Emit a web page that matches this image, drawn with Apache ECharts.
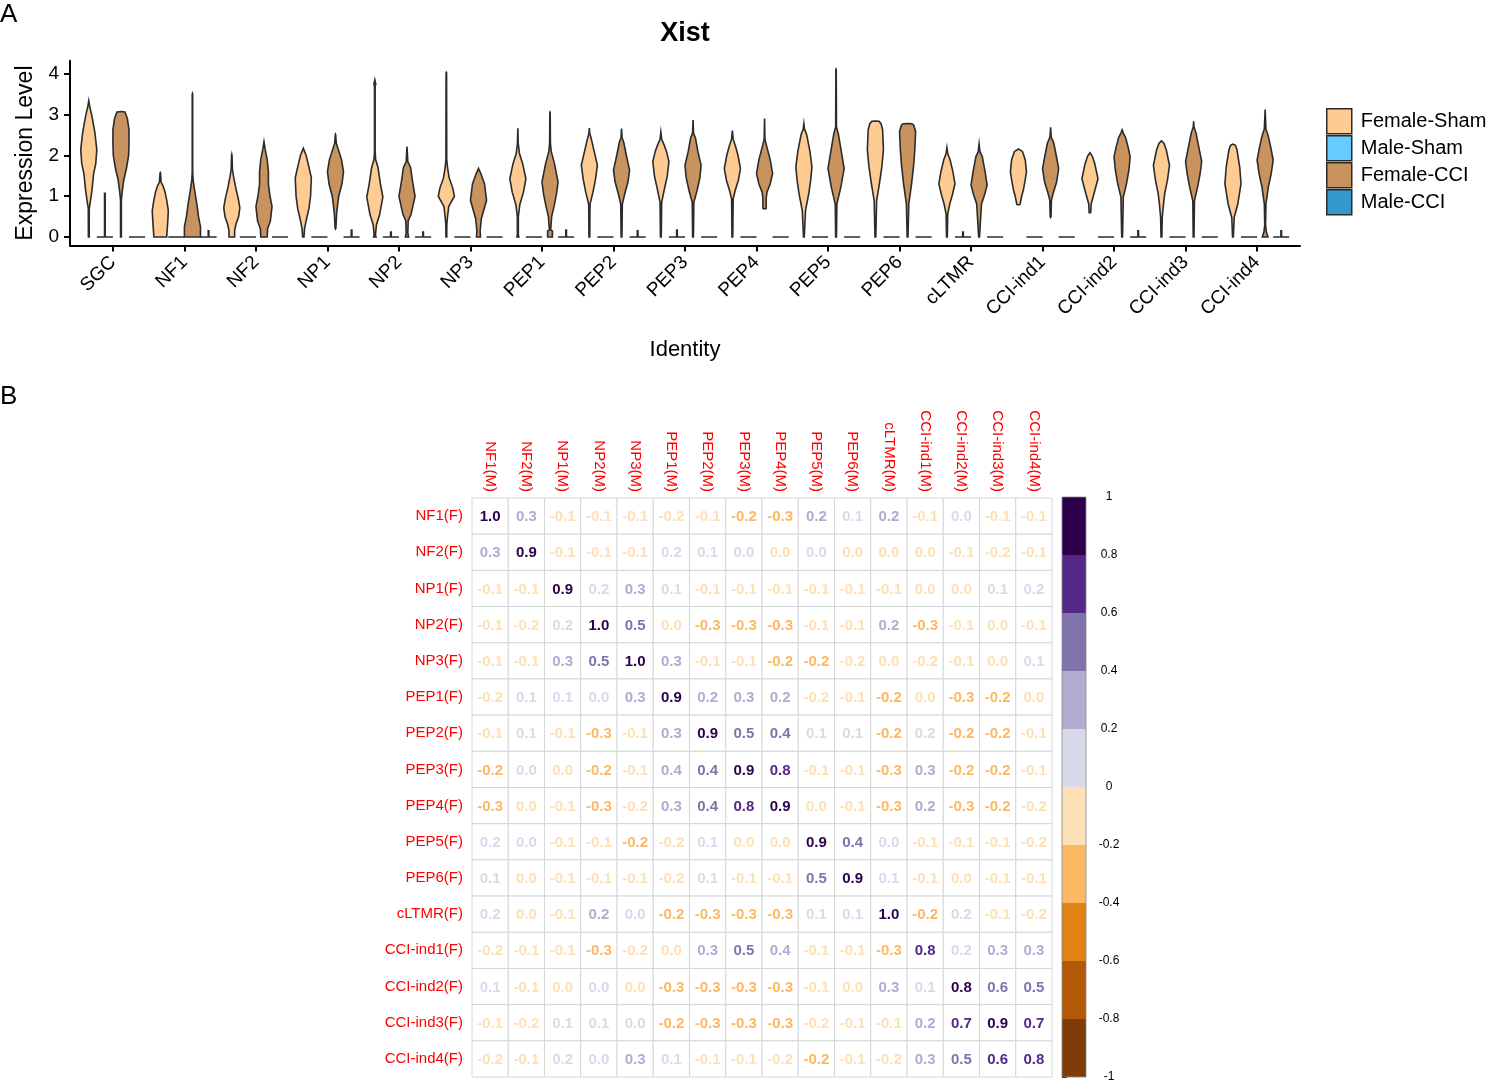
<!DOCTYPE html>
<html>
<head>
<meta charset="utf-8">
<script src="https://cdn.jsdelivr.net/npm/echarts@6/dist/echarts.min.js"></script>
<style>
html, body { margin: 0; padding: 0; background: #fff; }
#main { width: 1500px; height: 1084px; }
</style>
</head>
<body>
<div id="main"></div>
<script>
// ---------- panel A : Xist expression ----------
var identities = ['SGC', 'NF1', 'NF2', 'NP1', 'NP2', 'NP3', 'PEP1', 'PEP2', 'PEP3', 'PEP4', 'PEP5', 'PEP6', 'cLTMR', 'CCI-ind1', 'CCI-ind2', 'CCI-ind3', 'CCI-ind4'];
var groups = ['Female-Sham', 'Male-Sham', 'Female-CCI', 'Male-CCI'];
var groupColors = ['#FECB92', '#66CCFF', '#C8935E', '#3399CC'];
var exprTicks = [0, 1, 2, 3, 4];

// violin outlines: [expression level, relative width], bottom to top
var femaleShamShapes = [
  [[0,0.05],[0.7,0.06],[0.85,0.18],[1.15,0.4],[1.55,0.6],[1.8,0.87],[2.14,1.0],[2.55,0.77],[2.96,0.4],[3.2,0.12],[3.34,0]],
  [[0,0.8],[0.45,0.95],[0.65,1.0],[0.9,0.8],[1.1,0.6],[1.25,0.35],[1.35,0.1],[1.57,0.03],[1.58,0]],
  [[0,0.35],[0.15,0.35],[0.3,0.5],[0.5,0.85],[0.72,1.0],[0.95,0.8],[1.2,0.5],[1.45,0.25],[1.65,0.08],[2.0,0.03],[2.03,0]],
  [[0,0.08],[0.2,0.15],[0.4,0.35],[0.7,0.7],[1.0,0.9],[1.45,1.0],[1.8,0.6],[2.0,0.35],[2.18,0]],
  [[0,0.15],[0.05,0.08],[0.3,0.2],[0.55,0.6],[0.98,1.0],[1.3,0.7],[1.7,0.4],[1.9,0.1],[2.1,0.04],[3.7,0.04],[3.75,0.12],[3.86,0]],
  [[0,0.05],[0.3,0.06],[0.5,0.15],[0.75,0.3],[1.0,1.0],[1.2,0.8],[1.45,0.35],[1.7,0.15],[1.9,0.05],[4.03,0.03],[4.04,0]],
  [[0,0.12],[0.05,0.06],[0.5,0.06],[0.8,0.25],[1.1,0.7],[1.43,1.0],[1.8,0.6],[2.05,0.2],[2.3,0.05],[2.67,0]],
  [[0,0.05],[0.8,0.08],[1.1,0.45],[1.4,0.75],[1.76,1.0],[2.1,0.6],[2.4,0.25],[2.55,0.05],[2.67,0]],
  [[0,0.05],[0.85,0.1],[1.14,0.4],[1.5,0.8],[1.85,1.0],[2.1,0.7],[2.26,0.4],[2.4,0.1],[2.57,0]],
  [[0,0.05],[0.94,0.1],[1.14,0.35],[1.4,0.75],[1.68,1.0],[2.0,0.7],[2.22,0.4],[2.4,0.1],[2.61,0]],
  [[0,0.05],[0.65,0.2],[1.06,0.6],[1.4,0.85],[1.72,1.0],[2.1,0.75],[2.51,0.35],[2.65,0.08],[2.78,0]],
  [[0,0.05],[0.89,0.15],[1.31,0.5],[1.72,0.8],[2.14,1.0],[2.63,0.9],[2.78,0.7],[2.84,0.45],[2.845,0]],
  [[0,0.05],[0.56,0.1],[0.81,0.35],[1.05,0.7],[1.31,1.0],[1.6,0.75],[1.89,0.4],[2.05,0.1],[2.19,0]],
  [[0.79,0],[0.8,0.2],[1.0,0.4],[1.14,0.6],[1.35,0.8],[1.6,1.0],[1.89,0.85],[2.1,0.5],[2.16,0]],
  [[0.59,0],[0.6,0.1],[0.81,0.15],[1.06,0.5],[1.43,1.0],[1.8,0.6],[1.98,0.3],[2.07,0]],
  [[0,0.05],[0.48,0.1],[0.8,0.25],[1.06,0.4],[1.4,0.75],[1.76,1.0],[2.14,0.6],[2.3,0.3],[2.36,0]],
  [[0,0.05],[0.48,0.15],[0.81,0.6],[1.31,1.0],[1.7,0.85],[2.14,0.5],[2.25,0.3],[2.28,0]]
];
var femaleCCIShapes = [
  [[0,0.05],[0.9,0.05],[1.1,0.15],[1.4,0.35],[1.7,0.7],[2.0,0.95],[2.3,1.0],[2.63,1.0],[2.9,0.8],[3.07,0.5],[3.08,0]],
  [[0,1.0],[0.25,1.0],[0.5,0.75],[0.8,0.55],[1.1,0.3],[1.4,0.08],[1.6,0.03],[3.5,0.03],[3.52,0]],
  [[0,0.4],[0.2,0.45],[0.4,0.8],[0.75,1.0],[1.0,0.75],[1.3,0.55],[1.6,0.55],[1.9,0.4],[2.15,0.15],[2.34,0]],
  [[0.2,0],[0.22,0.05],[0.6,0.15],[1.0,0.4],[1.3,0.8],[1.6,1.0],[1.9,0.75],[2.15,0.35],[2.3,0.1],[2.51,0.02],[2.52,0]],
  [[0,0.2],[0.1,0.1],[0.4,0.15],[0.55,0.5],[1.0,1.0],[1.35,0.7],[1.7,0.45],[1.85,0.1],[2.22,0]],
  [[0,0.25],[0.15,0.2],[0.45,0.35],[0.9,1.0],[1.3,0.75],[1.55,0.3],[1.68,0]],
  [[0,0.3],[0.15,0.3],[0.17,0.08],[0.5,0.2],[0.75,0.5],[1.05,0.8],[1.35,1.0],[1.8,0.55],[2.1,0.15],[2.3,0.05],[3.05,0.02],[3.06,0]],
  [[0,0.05],[0.81,0.1],[1.06,0.4],[1.35,0.8],[1.64,1.0],[2.0,0.6],[2.3,0.3],[2.45,0.06],[2.66,0]],
  [[0,0.05],[0.85,0.1],[1.14,0.5],[1.45,0.85],[1.76,1.0],[2.1,0.6],[2.43,0.3],[2.55,0.06],[2.87,0]],
  [[0.69,0],[0.7,0.2],[0.95,0.2],[1.1,0.3],[1.3,0.7],[1.56,1.0],[1.9,0.7],[2.2,0.3],[2.4,0.05],[2.91,0]],
  [[0,0.05],[0.81,0.1],[1.23,0.6],[1.68,1.0],[2.1,0.65],[2.51,0.3],[2.7,0.05],[4.11,0.02],[4.12,0]],
  [[0,0.05],[0.81,0.15],[1.31,0.5],[1.75,0.75],[2.14,0.9],[2.59,1.0],[2.75,0.75],[2.78,0.55],[2.785,0]],
  [[0,0.05],[0.81,0.3],[1.05,0.7],[1.27,1.0],[1.6,0.75],[1.97,0.4],[2.1,0.1],[2.28,0]],
  [[0.48,0],[0.5,0.05],[0.9,0.1],[1.06,0.3],[1.35,0.75],[1.68,1.0],[2.0,0.7],[2.3,0.4],[2.45,0.08],[2.69,0]],
  [[0,0.05],[0.98,0.15],[1.31,0.55],[1.65,0.85],[1.97,1.0],[2.2,0.75],[2.43,0.45],[2.55,0.15],[2.63,0]],
  [[0,0.05],[0.89,0.1],[1.23,0.5],[1.55,0.8],[1.85,1.0],[2.2,0.65],[2.55,0.3],[2.7,0.05],[2.84,0]],
  [[0,0.35],[0.12,0.15],[0.3,0.05],[0.81,0.1],[1.23,0.4],[1.55,0.75],[1.89,1.0],[2.2,0.7],[2.47,0.4],[2.65,0.1],[3.13,0]]
];
// male cells are almost all zero: a flat line, plus a thin spike up to this level (0 = none)
var maleShamSpike = [1.07, 0, 0, 0, 0.12, 0, 0, 0, 0.17, 0, 0, 0, 0.12, 0, 0, 0, 0];
var maleCCISpike  = [0, 0.15, 0, 0.17, 0.12, 0, 0.17, 0.15, 0, 0, 0, 0, 0, 0, 0.15, 0, 0.15];

// ---------- panel B : correlation matrix ----------
var corrRows = ['NF1(F)', 'NF2(F)', 'NP1(F)', 'NP2(F)', 'NP3(F)', 'PEP1(F)', 'PEP2(F)', 'PEP3(F)', 'PEP4(F)', 'PEP5(F)', 'PEP6(F)', 'cLTMR(F)', 'CCI-ind1(F)', 'CCI-ind2(F)', 'CCI-ind3(F)', 'CCI-ind4(F)'];
var corrCols = ['NF1(M)', 'NF2(M)', 'NP1(M)', 'NP2(M)', 'NP3(M)', 'PEP1(M)', 'PEP2(M)', 'PEP3(M)', 'PEP4(M)', 'PEP5(M)', 'PEP6(M)', 'cLTMR(M)', 'CCI-ind1(M)', 'CCI-ind2(M)', 'CCI-ind3(M)', 'CCI-ind4(M)'];
var corrValues = [
  [1.0, 0.3, -0.1, -0.1, -0.1, -0.18, -0.1, -0.22, -0.3, 0.22, 0.1, 0.21, -0.1, 0.02, -0.1, -0.1],
  [0.3, 0.9, -0.1, -0.1, -0.1, 0.17, 0.1, 0.02, -0.02, 0.02, -0.02, -0.02, -0.02, -0.1, -0.18, -0.1],
  [-0.1, -0.1, 0.9, 0.17, 0.3, 0.1, -0.1, -0.1, -0.1, -0.1, -0.1, -0.1, -0.02, -0.02, 0.1, 0.17],
  [-0.1, -0.18, 0.17, 1.0, 0.5, -0.02, -0.3, -0.3, -0.3, -0.1, -0.1, 0.22, -0.3, -0.1, -0.02, -0.1],
  [-0.1, -0.1, 0.3, 0.5, 1.0, 0.3, -0.1, -0.1, -0.22, -0.22, -0.18, -0.02, -0.18, -0.1, -0.02, 0.1],
  [-0.18, 0.1, 0.1, 0.02, 0.3, 0.9, 0.22, 0.3, 0.22, -0.18, -0.1, -0.22, -0.02, -0.3, -0.22, -0.02],
  [-0.1, 0.1, -0.1, -0.3, -0.1, 0.3, 0.9, 0.5, 0.42, 0.1, 0.1, -0.22, 0.17, -0.22, -0.22, -0.1],
  [-0.22, 0.02, -0.02, -0.22, -0.1, 0.38, 0.42, 0.9, 0.78, -0.1, -0.1, -0.3, 0.3, -0.22, -0.22, -0.1],
  [-0.3, -0.02, -0.1, -0.3, -0.18, 0.3, 0.42, 0.78, 0.9, -0.02, -0.1, -0.3, 0.22, -0.3, -0.22, -0.18],
  [0.17, 0.02, -0.1, -0.1, -0.22, -0.18, 0.1, -0.02, -0.02, 0.9, 0.42, 0.02, -0.1, -0.1, -0.1, -0.18],
  [0.1, -0.02, -0.1, -0.1, -0.1, -0.18, 0.1, -0.1, -0.1, 0.5, 0.9, 0.1, -0.1, -0.02, -0.1, -0.1],
  [0.17, -0.02, -0.1, 0.22, 0.02, -0.22, -0.3, -0.3, -0.3, 0.1, 0.1, 1.0, -0.22, 0.17, -0.1, -0.18],
  [-0.18, -0.1, -0.1, -0.3, -0.18, -0.02, 0.3, 0.5, 0.38, -0.1, -0.1, -0.3, 0.78, 0.17, 0.3, 0.3],
  [0.1, -0.1, -0.02, 0.02, -0.02, -0.3, -0.3, -0.3, -0.3, -0.1, -0.02, 0.3, 0.1, 0.82, 0.58, 0.5],
  [-0.1, -0.18, 0.1, 0.1, 0.02, -0.22, -0.3, -0.3, -0.3, -0.18, -0.1, -0.1, 0.22, 0.7, 0.9, 0.7],
  [-0.18, -0.1, 0.17, 0.02, 0.3, 0.1, -0.1, -0.1, -0.18, -0.22, -0.1, -0.18, 0.3, 0.5, 0.62, 0.78]
];
// PuOr steps, from -1 up to 1
var corrPalette = ['#7F3B08', '#B35806', '#E08214', '#FDB863', '#FEE0B6', '#D8DAEB', '#B2ABD2', '#8073AC', '#542788', '#2D004B'];
var colorbarBreaks = [-1, -0.8, -0.6, -0.4, -0.2, 0, 0.2, 0.4, 0.6, 0.8, 1];

var FONT = '"Liberation Sans", Arial, sans-serif';
var chart = echarts.init(document.getElementById('main'));

function binColor(v) {
  var i = Math.floor((v + 1) / 0.2 + 1e-9);
  return corrPalette[Math.max(0, Math.min(9, i))];
}
function fmtCorr(v) {
  var s = (Math.round(v * 10) / 10).toFixed(1);
  return s === '-0.0' ? '0.0' : s;
}

var dodge = [-0.3375, -0.1125, 0.1125, 0.3375];
var halfWidth = 0.1125;

function spikeShapes(spikes) {
  return spikes.map(function (h) {
    return h > 0 ? [[0, 1], [0, 0.04], [h, 0.04], [h, 0]] : [[0, 1], [0, 0]];
  });
}
var groupShapes = [femaleShamShapes, spikeShapes(maleShamSpike), femaleCCIShapes, spikeShapes(maleCCISpike)];

function violinRenderer(shapes, offset) {
  return function (params, api) {
    var idx = api.value(0);
    var shape = shapes[idx];
    var half = api.size([halfWidth, 0])[0];
    var cx = api.coord([idx + offset, 0])[0];
    var left = [], right = [];
    shape.forEach(function (p) {
      var y = api.coord([idx, p[0]])[1];
      left.push([cx - p[1] * half, y]);
      right.unshift([cx + p[1] * half, y]);
    });
    return {
      type: 'polygon',
      shape: { points: left.concat(right) },
      style: { fill: api.visual('color'), stroke: '#2b2b2b', lineWidth: 1.6, lineJoin: 'miter' }
    };
  };
}

var violinSeries = groups.map(function (g, gi) {
  return {
    name: g,
    type: 'custom',
    xAxisIndex: 0,
    yAxisIndex: 0,
    itemStyle: { color: groupColors[gi] },
    renderItem: violinRenderer(groupShapes[gi], dodge[gi]),
    encode: { x: 0, y: 1 },
    data: identities.map(function (n, i) { return [i, 0]; }),
    silent: true
  };
});

var cellData = [];
corrValues.forEach(function (row, r) {
  row.forEach(function (v, c) { cellData.push([c, r, v]); });
});

var heatSeries = {
  type: 'custom',
  xAxisIndex: 1,
  yAxisIndex: 1,
  data: cellData,
  encode: { x: 0, y: 1 },
  silent: true,
  renderItem: function (params, api) {
    var p = api.coord([api.value(0), api.value(1)]);
    var s = api.size([1, 1]);
    var v = api.value(2);
    return {
      type: 'group',
      children: [
        { type: 'rect', shape: { x: p[0] - s[0] / 2, y: p[1] - s[1] / 2, width: s[0], height: s[1] },
          style: { fill: '#fff', stroke: '#D6D6D6', lineWidth: 1 } },
        { type: 'text', x: p[0], y: p[1] + 1,
          style: { text: fmtCorr(v), fill: binColor(v), font: 'bold 15px ' + FONT, textAlign: 'center', textVerticalAlign: 'middle' } }
      ]
    };
  }
};

var barSeries = {
  type: 'custom',
  xAxisIndex: 2,
  yAxisIndex: 2,
  silent: true,
  data: corrPalette.map(function (c, i) { return [i, colorbarBreaks[i], colorbarBreaks[i + 1]]; }),
  encode: { y: [1, 2] },
  renderItem: function (params, api) {
    var i = api.value(0);
    var a = api.coord([0, api.value(2)]);
    var b = api.coord([1, api.value(1)]);
    return { type: 'rect', shape: { x: a[0], y: a[1], width: b[0] - a[0], height: b[1] - a[1] },
      style: { fill: corrPalette[i] } };
  }
};

var option = {
  animation: false,
  backgroundColor: '#fff',
  textStyle: { fontFamily: FONT },
  graphic: [
    { type: 'text', x: 0, y: 2, style: { text: 'A', font: '26px ' + FONT, fill: '#000' } },
    { type: 'text', x: 0, y: 384, style: { text: 'B', font: '26px ' + FONT, fill: '#000' } },
    { type: 'text', x: 685, y: 34, style: { text: 'Xist', font: 'bold 27px ' + FONT, fill: '#000', textAlign: 'center', textVerticalAlign: 'middle' } },
    { type: 'rect', shape: { x: 1062, y: 497, width: 24, height: 580 }, style: { fill: 'none', stroke: '#888', lineWidth: 0.8 }, z: 10 }
  ],
  legend: {
    orient: 'vertical',
    left: 1321,
    top: 103,
    icon: 'rect',
    itemWidth: 25,
    itemHeight: 25,
    itemGap: 0.5,
    data: groups,
    selectedMode: false,
    itemStyle: { borderColor: '#2b2b2b', borderWidth: 1.5 },
    textStyle: { fontSize: 20, lineHeight: 25, color: '#000', fontFamily: FONT, padding: [0, 0, 0, 4] }
  },
  grid: [
    { left: 70, top: 60.7, width: 1230, height: 184.7 },
    { left: 472, top: 498, width: 580, height: 579 },
    { left: 1062, top: 497, width: 24, height: 580 }
  ],
  xAxis: [
    {
      gridIndex: 0, type: 'value', min: -0.6, max: 16.6,
      axisLine: { onZero: false, lineStyle: { color: '#000', width: 2 } },
      axisTick: { customValues: identities.map(function (n, i) { return i; }), length: 6, lineStyle: { color: '#000', width: 2 } },
      axisLabel: { customValues: identities.map(function (n, i) { return i; }), formatter: function (v) { return identities[v]; },
        rotate: 45, fontSize: 19, color: '#000', margin: 14 },
      splitLine: { show: false },
      name: 'Identity', nameLocation: 'middle', nameGap: 94,
      nameTextStyle: { fontSize: 22, color: '#000' }
    },
    {
      gridIndex: 1, type: 'category', data: corrCols, position: 'top',
      axisLine: { show: false }, axisTick: { show: false },
      axisLabel: { rotate: 90, color: '#FF0000', fontSize: 15, margin: 6, interval: 0 },
      splitLine: { show: false }
    },
    { gridIndex: 2, type: 'value', min: 0, max: 1, show: false }
  ],
  yAxis: [
    {
      gridIndex: 0, type: 'value', min: -0.206, max: 4.326,
      axisLine: { show: true, onZero: false, lineStyle: { color: '#000', width: 2 } },
      axisTick: { show: true, customValues: exprTicks, length: 6, lineStyle: { color: '#000', width: 2 } },
      axisLabel: { customValues: exprTicks, fontSize: 19, color: '#000', margin: 11 },
      splitLine: { show: false },
      name: 'Expression Level', nameLocation: 'middle', nameGap: 32, nameRotate: 90,
      nameTextStyle: { fontSize: 23, color: '#000' }
    },
    {
      gridIndex: 1, type: 'category', data: corrRows, inverse: true,
      axisLine: { show: false }, axisTick: { show: false },
      axisLabel: { color: '#FF0000', fontSize: 15, margin: 9, interval: 0 },
      splitLine: { show: false }
    },
    {
      gridIndex: 2, type: 'value', min: -1, max: 1, interval: 0.2, position: 'right',
      axisLine: { show: false },
      axisTick: { show: true, length: 5, lineStyle: { color: '#000' } },
      axisLabel: { fontSize: 12, color: '#000', margin: 23, align: 'center',
        formatter: function (v) { return String(Number(v.toFixed(1))); } },
      splitLine: { show: false }
    }
  ],
  series: violinSeries.concat([heatSeries, barSeries])
};

chart.setOption(option);
</script>
</body>
</html>
